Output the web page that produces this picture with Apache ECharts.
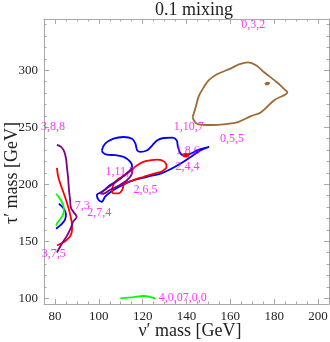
<!DOCTYPE html>
<html>
<head>
<meta charset="utf-8">
<script src="https://cdn.jsdelivr.net/npm/echarts@6/dist/echarts.min.js"></script>
<style>
  html, body { margin: 0; padding: 0; background: #fff; }
  #chart { width: 330px; height: 342px; }
</style>
</head>
<body>
<div id="chart"></div>
<script>
// contours: [nu' mass, tau' mass]
var brownLoop = [[142.8,259.0],[143.3,256.3],[145.1,252.8],[151.1,252.0],[158.0,252.8],[163.5,254.6],[169.4,259.8],[174.0,263.3],[180.0,273.8],[186.0,280.8],[184.6,283.4],[181.8,288.6],[175.4,298.3],[171.7,304.4],[168.1,307.0],[163.9,305.2],[160.3,301.7],[153.9,296.5],[150.2,291.3],[147.9,285.2],[145.6,277.3],[144.2,267.7],[142.8,259.0]];
var brownDot = [[175.8,288.0],[176.8,289.2],[177.7,288.8],[176.7,287.6],[175.8,288.0]];
var blueLoop = [[101.4,229.9],[102.9,235.6],[106.7,240.0],[111.3,241.5],[115.2,240.0],[116.7,235.6],[117.5,229.9],[119.0,228.4],[122.1,229.9],[124.4,234.2],[126.7,238.6],[129.7,240.6],[133.5,240.9],[135.5,238.6],[136.1,232.8],[137.3,226.9],[138.9,225.5],[141.9,226.9],[145.0,229.9],[150.3,232.8],[146.5,229.9],[141.9,224.0],[137.3,218.2],[132.8,213.3],[128.2,209.4],[122.1,206.6],[115.9,203.7],[111.3,199.8],[106.7,194.9],[102.9,189.1],[101.4,184.7],[99.9,186.2],[99.1,190.6],[101.4,193.4],[105.2,199.3],[109.8,205.1],[113.6,210.9],[115.2,215.3],[114.4,219.7],[111.3,224.0],[107.5,225.5],[103.7,226.0],[101.9,227.8],[101.4,229.9]];
var blueLeft = [[81.8,183.0],[83.7,179.5],[85.0,174.2],[84.6,169.0],[82.8,164.6],[80.5,161.1]];
var redLoop = [[106.0,193.4],[106.6,199.6],[108.4,203.9],[111.3,207.4],[114.4,211.8],[117.5,216.8],[121.3,220.3],[126.7,221.7],[130.0,219.7],[130.9,215.3],[128.9,211.5],[125.1,209.4],[120.5,206.6],[115.9,203.7],[111.7,200.4],[110.6,194.9],[109.0,192.0],[106.7,192.0],[106.0,193.4]];
var redDot = [[138.2,225.5],[139.6,226.8],[141.0,225.5],[139.6,224.2],[138.2,225.5]];
var redLeft = [[80.9,214.4],[81.4,207.4],[82.3,201.3],[84.6,188.9],[86.4,177.7],[87.6,167.2],[87.8,160.3],[87.1,155.0],[85.5,151.5],[83.7,148.9],[80.9,146.3]];
var purpleLeft = [[80.9,234.5],[82.8,232.8],[84.1,229.3],[85.0,223.1],[85.5,214.4],[86.0,205.7],[86.4,195.2],[86.9,186.5],[87.3,179.5],[88.7,175.1],[89.9,171.6],[88.3,167.2],[87.3,162.0],[85.5,155.0],[83.2,148.0],[80.9,140.2]];
var purpleLoop = [[100.6,192.1],[103.4,196.1],[106.6,200.4],[110.3,205.7],[113.5,210.9],[115.3,213.5],[114.9,208.3],[112.6,203.1],[108.9,198.7],[105.2,195.2],[102.0,191.7],[100.6,192.1]];
var greenLeft = [[80.5,191.7],[82.3,187.3],[83.7,182.1],[84.1,176.9],[83.2,171.6],[81.4,167.2],[80.5,163.8]];
var greenBottom = [[109.8,100.0],[115.8,101.1],[120.4,102.0],[123.6,101.1],[125.9,99.7]];

var labelText = ['0,3,2','3,8,8','3,7,5','7,3','2,7,4','1,11,7','2,6,5','1,10,7','0,5,5','1,8,6','2,4,4','4,0,07,0,0'];
var labelX = [170.4, 79.1, 79.5, 92.4, 100.2, 109.8, 121.3, 141.0, 160.7, 140.6, 140.5, 138.3];
var labelY = [340.0, 250.0, 139.3, 181.2, 175.0, 211.0, 195.2, 250.2, 239.7, 229.3, 215.3, 100.0];

var xMajor = [80, 100, 120, 140, 160, 180, 200];
var xMinor = [75, 85, 90, 95, 105, 110, 115, 125, 130, 135, 145, 150, 155, 165, 170, 175, 185, 190, 195, 205];
var yMajor = [100, 150, 200, 250, 300];
var yMinor = [110, 120, 130, 140, 160, 170, 180, 190, 210, 220, 230, 240, 260, 270, 280, 290, 310, 320, 330, 340];

var serif = '"Liberation Serif", "DejaVu Serif", serif';
var frame = '#a8a8a8';

function axis(pos, min, max, ticks, len, labels, line) {
  return {
    type: 'value', position: pos, min: min, max: max,
    splitLine: { show: false },
    axisLine: { show: line, onZero: false, lineStyle: { color: frame, width: 1 } },
    axisTick: { show: true, inside: true, length: len, customValues: ticks, lineStyle: { color: frame } },
    axisLabel: labels ? { show: true, customValues: ticks, color: '#222', fontFamily: serif, fontSize: 13, margin: 6 } : { show: false }
  };
}

var chart = echarts.init(document.getElementById('chart'), null, { renderer: 'canvas' });

function curve(data, color) {
  return {
    type: 'line', data: data, xAxisIndex: 0, yAxisIndex: 0,
    showSymbol: false, symbol: 'none', smooth: 0.35, silent: true,
    lineStyle: { color: color, width: 1.8 }, z: 3
  };
}

var labelData = labelText.map(function(t, i) { return { name: t, value: [labelX[i], labelY[i]] }; });

chart.setOption({
  animation: false,
  backgroundColor: '#fff',
  grid: { left: 44, right: 1, top: 19, bottom: 38, containLabel: false, outerBoundsMode: 'none' },
  xAxis: [
    axis('bottom', 75, 205, xMajor, 5, true, true),
    axis('bottom', 75, 205, xMinor, 2.5, false, false),
    axis('top', 75, 205, xMajor, 5, false, true),
    axis('top', 75, 205, xMinor, 2.5, false, false)
  ],
  yAxis: [
    axis('left', 95, 345, yMajor, 5, true, true),
    axis('left', 95, 345, yMinor, 2.5, false, false),
    axis('right', 95, 345, yMajor, 5, false, true),
    axis('right', 95, 345, yMinor, 2.5, false, false)
  ],
  graphic: [
    { type: 'text', x: 194, y: 10, style: { text: '0.1 mixing', font: '18px ' + serif, fill: '#222', textAlign: 'center', textVerticalAlign: 'middle' } },
    { type: 'text', x: 190, y: 331, style: { text: 'ν′ mass [GeV]', font: '18px ' + serif, fill: '#222', textAlign: 'center', textVerticalAlign: 'middle' } },
    { type: 'text', x: 12, y: 173, rotation: Math.PI / 2, style: { text: 'τ′ mass [GeV]', font: '18px ' + serif, fill: '#222', textAlign: 'center', textVerticalAlign: 'middle' } }
  ],
  series: [
    curve(brownLoop, '#9d6a35'),
    curve(brownDot, '#9d6a35'),
    curve(blueLoop, '#0000ff'),
    curve(blueLeft, '#0000ff'),
    curve(redLoop, '#ff0000'),
    curve(redDot, '#ff0000'),
    curve(redLeft, '#ff0000'),
    curve(purpleLeft, '#800080'),
    curve(purpleLoop, '#800080'),
    curve(greenLeft, '#00ff00'),
    curve(greenBottom, '#00ff00'),
    {
      type: 'scatter', data: labelData, symbolSize: 1, silent: true, z: 5,
      itemStyle: { color: 'rgba(0,0,0,0)' },
      label: { show: true, position: 'inside', formatter: '{b}', color: '#ff00ff', fontFamily: serif, fontSize: 12 }
    }
  ]
});
</script>
</body>
</html>
